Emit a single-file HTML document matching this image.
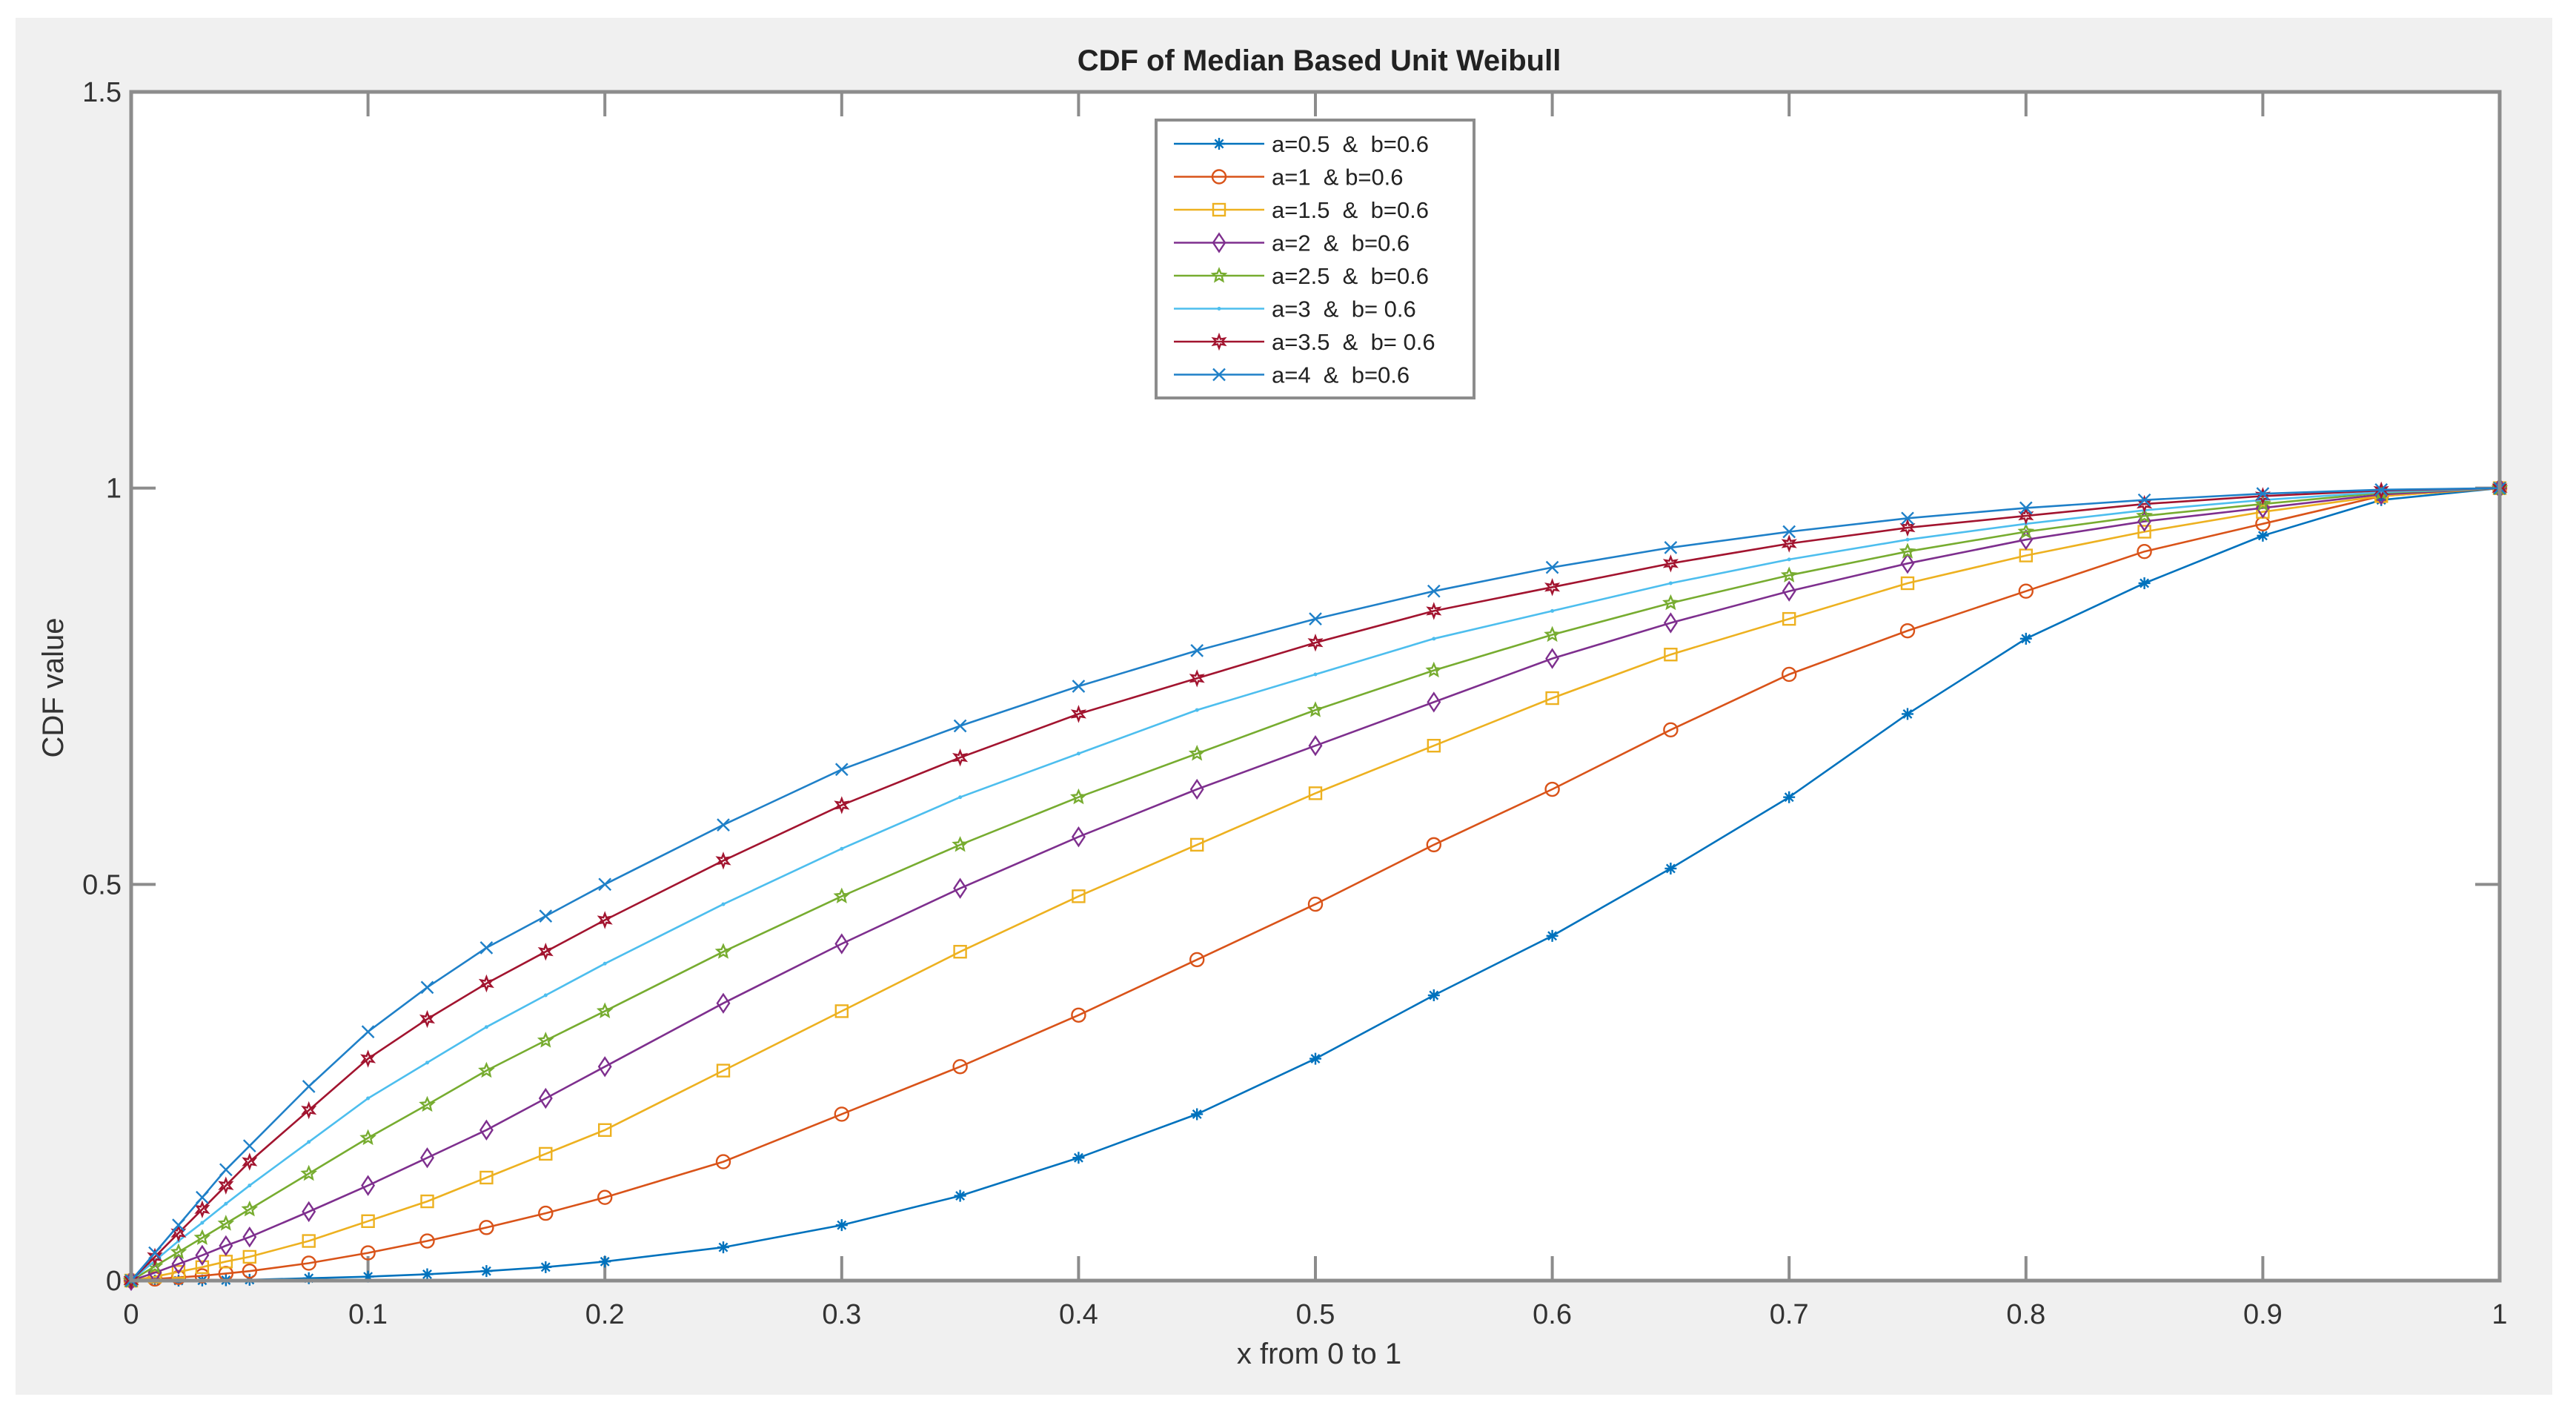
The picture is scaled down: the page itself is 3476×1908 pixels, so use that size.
<!DOCTYPE html>
<html><head><meta charset="utf-8"><style>
html,body{margin:0;padding:0;background:#fff;}
svg{display:block;font-family:"Liberation Sans",Arial,sans-serif;}
</style></head><body>
<svg id="chart" width="3476" height="1908" viewBox="0 0 3476 1908" xmlns="http://www.w3.org/2000/svg">
<rect x="21" y="24" width="3423" height="1858" fill="#f0f0f0"/>
<rect x="177" y="124" width="3196" height="1604" fill="#fff"/>
<g id="ticks"></g>
<g id="series"></g>
<rect x="177" y="124" width="3196" height="1604" fill="none" stroke="#8c8c8c" stroke-width="5"/>
<text x="1780" y="95" text-anchor="middle" font-size="40" font-weight="bold" fill="#222">CDF of Median Based Unit Weibull</text>
<text x="1780" y="1840" text-anchor="middle" font-size="40" fill="#333">x from 0 to 1</text>
<text transform="translate(85,928) rotate(-90)" text-anchor="middle" font-size="40" fill="#333">CDF value</text>
<g id="legend"></g>
</svg>
<script>
const xVals=[0,0.01,0.02,0.03,0.04,0.05,0.075,0.1,0.125,0.15,0.175,0.2,0.25,0.3,0.35,0.4,0.45,0.5,0.55,0.6,0.65,0.7,0.75,0.8,0.85,0.9,0.95,1];
const seriesA05=[0,0,0,0.0002,0.0005,0.001,0.003,0.005,0.008,0.012,0.017,0.024,0.042,0.07,0.107,0.155,0.21,0.28,0.36,0.435,0.52,0.61,0.715,0.81,0.88,0.94,0.985,1];
const seriesA1=[0,0.002,0.004,0.006,0.009,0.012,0.022,0.035,0.05,0.067,0.085,0.105,0.15,0.21,0.27,0.335,0.405,0.475,0.55,0.62,0.695,0.765,0.82,0.87,0.92,0.955,0.99,1];
const seriesA15=[0,0.005,0.011,0.017,0.024,0.03,0.05,0.075,0.1,0.13,0.16,0.19,0.265,0.34,0.415,0.485,0.55,0.615,0.675,0.735,0.79,0.835,0.88,0.915,0.945,0.97,0.99,1];
const seriesA2=[0,0.01,0.021,0.032,0.044,0.055,0.087,0.12,0.155,0.19,0.23,0.27,0.35,0.425,0.495,0.56,0.62,0.675,0.73,0.785,0.83,0.87,0.905,0.935,0.958,0.975,0.992,1];
const seriesA25=[0,0.018,0.036,0.054,0.072,0.09,0.135,0.18,0.222,0.265,0.303,0.34,0.415,0.485,0.55,0.61,0.665,0.72,0.77,0.815,0.855,0.89,0.92,0.945,0.965,0.98,0.994,1];
const seriesA3=[0,0.025,0.05,0.073,0.097,0.12,0.175,0.23,0.275,0.32,0.36,0.4,0.475,0.545,0.61,0.665,0.72,0.765,0.81,0.845,0.88,0.91,0.935,0.955,0.972,0.985,0.995,1];
const seriesA35=[0,0.03,0.06,0.09,0.12,0.15,0.215,0.28,0.33,0.375,0.415,0.455,0.53,0.6,0.66,0.715,0.76,0.805,0.845,0.875,0.905,0.93,0.95,0.965,0.98,0.99,0.997,1];
const seriesA4=[0,0.035,0.07,0.105,0.14,0.17,0.245,0.314,0.37,0.42,0.46,0.5,0.575,0.645,0.7,0.75,0.795,0.835,0.87,0.9,0.925,0.945,0.962,0.975,0.985,0.993,0.998,1];
const legendLabels=["a=0.5  &  b=0.6","a=1  & b=0.6","a=1.5  &  b=0.6","a=2  &  b=0.6","a=2.5  &  b=0.6","a=3  &  b= 0.6","a=3.5  &  b= 0.6","a=4  &  b=0.6"];
const xTicks=[0,0.1,0.2,0.3,0.4,0.5,0.6,0.7,0.8,0.9,1];
const xTickLabels=["0","0.1","0.2","0.3","0.4","0.5","0.6","0.7","0.8","0.9","1"];
const yTicks=[0,0.5,1,1.5];
const yTickLabels=["0","0.5","1","1.5"];

const NS="http://www.w3.org/2000/svg";
const L=177,R=3373,T=124,B=1728;
const xs=v=>L+(R-L)*v;
const ys=v=>B-(B-T)*v/1.5;
function mk(tag,attrs,parent){const e=document.createElementNS(NS,tag);for(const k in attrs)e.setAttribute(k,attrs[k]);parent.appendChild(e);return e;}

const tg=document.getElementById('ticks');
xTicks.forEach((t,i)=>{
  const x=xs(t);
  let l=mk('line',{x1:x,y1:B,x2:x,y2:B-33,stroke:'#8c8c8c','stroke-width':4},tg);
  
  
  l=mk('line',{x1:x,y1:T,x2:x,y2:T+33,stroke:'#8c8c8c','stroke-width':4},tg);
  
  
  const tx=mk('text',{x:x,y:1786,'text-anchor':'middle','font-size':38,fill:'#333'},tg);
  tx.textContent=xTickLabels[i];
  
  
});
yTicks.forEach((t,i)=>{
  const y=ys(t);
  let l=mk('line',{x1:L,y1:y,x2:L+33,y2:y,stroke:'#8c8c8c','stroke-width':4},tg);
  
  
  l=mk('line',{x1:R,y1:y,x2:R-33,y2:y,stroke:'#8c8c8c','stroke-width':4},tg);
  
  
  const tx=mk('text',{x:164,y:y+13,'text-anchor':'end','font-size':38,fill:'#333'},tg);
  tx.textContent=yTickLabels[i];
  
  
});

const seriesList=[seriesA05,seriesA1,seriesA15,seriesA2,seriesA25,seriesA3,seriesA35,seriesA4];
const colors=['#0072BD','#D95319','#EDB120','#7E2F8E','#77AC30','#4DBEEE','#A2142F','#1f80c8'];
const markers=['star','circle','square','diamond','pentagram','dot','hexagram','x'];

function drawMarker(g,type,x,y,c){
  const s=8;let e;
  const sw=2.4;
  if(type==='star'){
    e=mk('path',{d:`M${x-s},${y}H${x+s}M${x},${y-s}V${y+s}M${x-s*0.7},${y-s*0.7}L${x+s*0.7},${y+s*0.7}M${x-s*0.7},${y+s*0.7}L${x+s*0.7},${y-s*0.7}`,stroke:c,'stroke-width':sw,fill:'none'},g);
  }else if(type==='x'){
    e=mk('path',{d:`M${x-s},${y-s}L${x+s},${y+s}M${x-s},${y+s}L${x+s},${y-s}`,stroke:c,'stroke-width':sw,fill:'none'},g);
  }else if(type==='circle'){
    e=mk('circle',{cx:x,cy:y,r:s+1,stroke:c,'stroke-width':sw,fill:'none'},g);
  }else if(type==='square'){
    e=mk('rect',{x:x-s,y:y-s,width:2*s,height:2*s,stroke:c,'stroke-width':sw,fill:'none'},g);
  }else if(type==='diamond'){
    e=mk('path',{d:`M${x},${y-s*1.5}L${x+s},${y}L${x},${y+s*1.5}L${x-s},${y}Z`,stroke:c,'stroke-width':sw,fill:'none'},g);
  }else if(type==='dot'){
    e=mk('circle',{cx:x,cy:y,r:2.5,fill:c},g);
  }else{
    const n=type==='pentagram'?5:6;let d='';
    for(let k=0;k<2*n;k++){const r=k%2?s*0.5:s*1.1;const a=-Math.PI/2+k*Math.PI/n;d+=(k?'L':'M')+(x+r*Math.cos(a)).toFixed(1)+','+(y+r*Math.sin(a)).toFixed(1);}
    e=mk('path',{d:d+'Z',stroke:c,'stroke-width':sw,fill:'none'},g);
  }
  return e;
}

const sg=document.getElementById('series');
seriesList.forEach((vals,si)=>{
  const g=mk('g',{},sg);
  
  
  const pts=vals.map((v,i)=>xs(xVals[i]).toFixed(1)+','+ys(v).toFixed(1)).join(' ');
  const pl=mk('polyline',{points:pts,fill:'none',stroke:colors[si],'stroke-width':2.6},g);
  
  
  vals.forEach((v,i)=>{
    const m=drawMarker(g,markers[si],xs(xVals[i]),ys(v),colors[si]);
    
    
  });
});

const lg=document.getElementById('legend');
const box=mk('rect',{x:1560,y:162,width:429,height:375,fill:'#fff',stroke:'#8c8c8c','stroke-width':4},lg);


legendLabels.forEach((lab,i)=>{
  const y=194+i*44.5;
  const g=mk('g',{},lg);
  
  
  mk('line',{x1:1584,y1:y,x2:1706,y2:y,stroke:colors[i],'stroke-width':2.6},g);
  drawMarker(g,markers[i],1645,y,colors[i]);
  const t=mk('text',{x:1716,y:y+11,'font-size':31,fill:'#222','xml:space':'preserve'},g);
  t.setAttribute('style','white-space:pre');
  t.textContent=lab;
});
</script>
</body></html>
